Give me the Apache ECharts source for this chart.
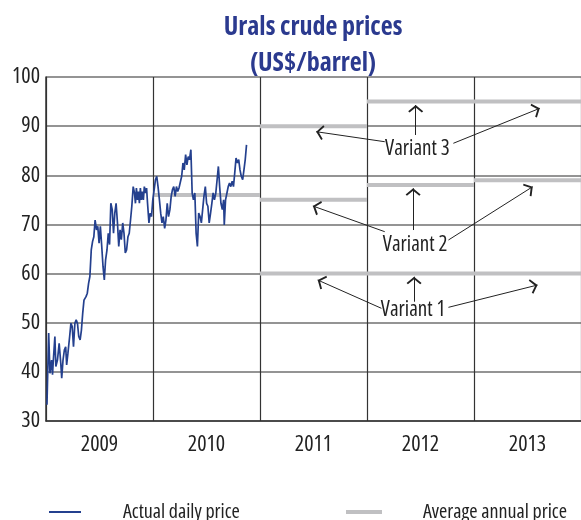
<!DOCTYPE html>
<html>
<head>
<meta charset="utf-8">
<title>Urals crude prices</title>
<script src="https://cdn.jsdelivr.net/npm/echarts@6/dist/echarts.min.js"></script>
<style>
    html, body { margin: 0; padding: 0; background: #fff; }
    #chart { width: 581px; height: 520px; }
</style>
</head>
<body>
<div id="chart"></div>
<script>
// 年份标签
var yearLabels = ['2009', '2010', '2011', '2012', '2013'];

// 实际日价格 x: 年份小数
var dailyYear = [
    2009.009, 2009.025, 2009.037, 2009.052, 2009.061, 2009.067, 2009.083, 2009.092, 2009.107, 2009.123,
    2009.138, 2009.147, 2009.159, 2009.172, 2009.184, 2009.193, 2009.205, 2009.221, 2009.233, 2009.245,
    2009.257, 2009.270, 2009.282, 2009.294, 2009.306, 2009.319, 2009.331, 2009.343, 2009.355, 2009.374,
    2009.386, 2009.398, 2009.410, 2009.423, 2009.435, 2009.447, 2009.459, 2009.472, 2009.484, 2009.496,
    2009.508, 2009.521, 2009.533, 2009.545, 2009.557, 2009.570, 2009.582, 2009.594, 2009.606, 2009.619,
    2009.631, 2009.643, 2009.655, 2009.668, 2009.680, 2009.692, 2009.704, 2009.717, 2009.729, 2009.741,
    2009.753, 2009.766, 2009.778, 2009.790, 2009.802, 2009.815, 2009.827, 2009.836, 2009.845, 2009.855,
    2009.864, 2009.873, 2009.882, 2009.891, 2009.900, 2009.910, 2009.919, 2009.931, 2009.940, 2009.949,
    2009.962, 2009.974, 2009.986, 2009.998, 2010.011, 2010.023, 2010.035, 2010.047, 2010.060, 2010.072,
    2010.084, 2010.096, 2010.109, 2010.121, 2010.133, 2010.145, 2010.158, 2010.170, 2010.182, 2010.194,
    2010.207, 2010.219, 2010.231, 2010.243, 2010.256, 2010.268, 2010.280, 2010.292, 2010.305, 2010.317,
    2010.329, 2010.341, 2010.354, 2010.366, 2010.378, 2010.391, 2010.403, 2010.415, 2010.427, 2010.440,
    2010.452, 2010.464, 2010.476, 2010.489, 2010.501, 2010.513, 2010.525, 2010.538, 2010.550, 2010.562,
    2010.574, 2010.587, 2010.599, 2010.611, 2010.623, 2010.635, 2010.648, 2010.660, 2010.666, 2010.678,
    2010.691, 2010.703, 2010.715, 2010.727, 2010.740, 2010.752, 2010.764, 2010.776, 2010.789, 2010.801,
    2010.813, 2010.825, 2010.838, 2010.850, 2010.862, 2010.874
];
var dailyPrice = [
    33.3, 47.9, 39.7, 42.4, 39.4, 41.8, 47.2, 41.1, 42.4, 45.8,
    41.8, 38.7, 42.4, 44.5, 45.1, 41.4, 43.8, 47.2, 49.9, 49.2,
    45.1, 49.9, 50.6, 49.9, 47.2, 46.5, 48.5, 51.9, 54.6, 55.3,
    56.0, 58.0, 59.4, 64.8, 66.5, 67.5, 70.9, 68.9, 69.6, 66.2,
    69.6, 65.5, 61.4, 58.7, 62.8, 64.8, 68.2, 65.9, 74.3, 73.0,
    68.2, 72.3, 74.3, 70.3, 65.5, 68.9, 66.9, 70.3, 68.2, 64.2,
    64.8, 67.5, 68.2, 70.9, 73.7, 77.7, 76.4, 74.3, 77.4, 75.0,
    76.7, 74.3, 77.4, 75.0, 76.7, 75.0, 77.7, 76.4, 77.4, 74.3,
    70.3, 72.3, 71.6, 75.0, 77.1, 79.1, 79.8, 77.7, 75.0, 72.3,
    70.3, 71.6, 69.2, 70.9, 74.3, 71.6, 73.0, 75.7, 77.1, 77.7,
    75.7, 77.7, 76.7, 77.4, 77.1, 79.8, 82.5, 81.1, 84.2, 82.1,
    83.8, 83.2, 85.2, 76.4, 75.0, 76.4, 68.2, 65.5, 72.3, 71.6,
    70.3, 73.0, 75.7, 77.7, 74.3, 73.7, 70.3, 72.3, 74.3, 76.4,
    75.0, 76.4, 79.1, 81.8, 77.7, 74.3, 73.0, 75.0, 69.9, 75.0,
    76.4, 77.7, 78.4, 77.7, 78.8, 77.7, 80.5, 83.5, 82.5, 83.2,
    81.1, 79.8, 79.1, 81.1, 83.2, 86.2
];

// 年均价格
var avgYears = [2010, 2011, 2012, 2013];
var avgActual = [76, null, null, null];
var avgVariant1 = [null, 60, 60, 60];
var avgVariant2 = [null, 75, 78, 79];
var avgVariant3 = [null, 90, 95, 95];

// 注释: 方案文字位置及箭头 [起点, 终点]
var variantNames = ['Variant 1', 'Variant 2', 'Variant 3'];
var variantLabelPos = [[2012.431, 52.6], [2012.450, 65.8], [2012.471, 85.35]];
var variantArrows = [
    [[[2012.135, 52.93], [2011.539, 58.69]], [[2012.440, 54.27], [2012.440, 59.36]], [[2012.761, 53.13], [2013.594, 57.67]]],
    [[[2012.166, 68.52], [2011.494, 73.75]], [[2012.431, 68.86], [2012.431, 77.35]], [[2012.761, 66.83], [2013.549, 77.68]]],
    [[[2012.166, 86.83], [2011.525, 88.87]], [[2012.455, 88.20], [2012.455, 94.30]], [[2012.807, 86.51], [2013.615, 93.63]]]
];

// 'condensed' 放在字重里, 让 canvas 选用窄体
var FONT = "'Open Sans', 'Roboto', sans-serif";
var NARROW = 'condensed';
var blueColor = '#24408e';
var greyColor = '#c0c0c2';
// 开口箭头, 尖端在包围盒中心 (上方的小点只用来撑开包围盒)
var chevron = 'path://M0,0L9,7.4L7.4,9L0,3L-7.4,9L-9,7.4Z M0,-9L0.01,-9L0,-8.99Z';

/**
 * 拼接年均价格线段
 * */
function buildAvgData() {
    var data = [];
    var groups = [avgActual, avgVariant1, avgVariant2, avgVariant3];
    for (var g = 0; g < groups.length; g++) {
        for (var i = 0; i < avgYears.length; i++) {
            if (groups[g][i] == null) {
                continue;
            }
            data.push([avgYears[i], groups[g][i]]);
            data.push([avgYears[i] + 1, groups[g][i]]);
            data.push(null);
        }
    }
    return data;
}

var dailyData = [];
for (var i = 0; i < dailyYear.length; i++) {
    dailyData.push([dailyYear[i], dailyPrice[i]]);
}

var arrowLines = [];
var labelPoints = [];
for (var v = 0; v < variantNames.length; v++) {
    for (var a = 0; a < variantArrows[v].length; a++) {
        arrowLines.push([
            {coord: variantArrows[v][a][0]},
            {coord: variantArrows[v][a][1]}
        ]);
    }
    labelPoints.push({name: variantNames[v], coord: variantLabelPos[v]});
}

var chart = echarts.init(document.getElementById('chart'));
var option = {
    animation: false,
    title: {
        text: 'Urals crude prices\n(US$/barrel)',
        left: 308,
        top: 5,
        textAlign: 'center',
        textStyle: {
            fontFamily: FONT,
            fontWeight: 'bold ' + NARROW,
            fontSize: 26,
            lineHeight: 36,
            color: '#2b3a8f'
        }
    },
    legend: [
        {
            data: [{name: 'Actual daily price', icon: 'rect'}],
            left: 44,
            top: 497,
            itemWidth: 32,
            itemHeight: 2,
            textStyle: {fontFamily: FONT, fontWeight: NARROW, fontSize: 20, color: '#222', padding: [0, 0, 0, 37]}
        },
        {
            data: [{name: 'Average annual price', icon: 'rect'}],
            left: 341,
            top: 497,
            itemWidth: 36,
            itemHeight: 4,
            textStyle: {fontFamily: FONT, fontWeight: NARROW, fontSize: 20, color: '#222', padding: [0, 0, 0, 36]}
        }
    ],
    grid: {
        left: 46,
        right: -10,
        top: 77,
        bottom: 99
    },
    xAxis: [
        {
            type: 'value',
            min: 2009,
            max: 2014,
            interval: 1,
            axisLabel: {show: false},
            axisTick: {show: false},
            axisLine: {show: true, lineStyle: {color: '#333', width: 1.5}},
            splitLine: {show: true, lineStyle: {color: '#333', width: 1.2}}
        },
        {
            type: 'category',
            data: yearLabels,
            position: 'bottom',
            axisLine: {show: false},
            axisTick: {show: false},
            splitLine: {show: false},
            axisLabel: {fontFamily: FONT, fontWeight: NARROW, fontSize: 22, color: '#222', margin: 13}
        }
    ],
    yAxis: {
        type: 'value',
        min: 30,
        max: 100,
        interval: 10,
        axisLine: {show: true, lineStyle: {color: '#333', width: 1.5}},
        axisTick: {show: false},
        axisLabel: {fontFamily: FONT, fontWeight: NARROW, fontSize: 22, color: '#222', margin: 6},
        splitLine: {show: true, lineStyle: {color: '#707070', width: 1.5}}
    },
    series: [
        {
            name: 'Average annual price',
            type: 'line',
            xAxisIndex: 0,
            symbol: 'none',
            connectNulls: false,
            lineStyle: {color: greyColor, width: 4},
            itemStyle: {color: greyColor},
            data: buildAvgData(),
            z: 3
        },
        {
            name: 'Actual daily price',
            type: 'line',
            xAxisIndex: 0,
            symbol: 'none',
            lineStyle: {color: blueColor, width: 1.7},
            itemStyle: {color: blueColor},
            data: dailyData,
            z: 4
        },
        {
            name: 'notes',
            type: 'line',
            xAxisIndex: 0,
            data: [],
            itemStyle: {color: '#222'},
            markLine: {
                silent: true,
                symbol: ['none', chevron],
                symbolSize: 15,
                label: {show: false},
                lineStyle: {color: '#222', width: 1, type: 'solid'},
                data: arrowLines
            },
            markPoint: {
                silent: true,
                symbol: 'circle',
                symbolSize: 1,
                itemStyle: {color: 'rgba(0,0,0,0)'},
                label: {
                    show: true,
                    position: 'inside',
                    formatter: '{b}',
                    fontFamily: FONT,
                    fontWeight: NARROW,
                    fontSize: 21,
                    color: '#222'
                },
                data: labelPoints
            }
        }
    ]
};
chart.setOption(option);
</script>
</body>
</html>
